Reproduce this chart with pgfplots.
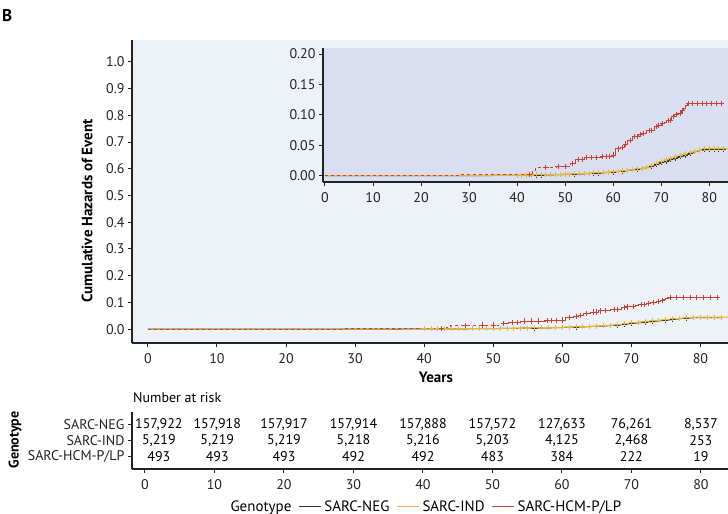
\documentclass[border=0pt]{standalone}
\usepackage{pgfplots}
\pgfplotsset{compat=1.18}
\usepackage{pgfplotstable}
\usepackage{fontspec}
\setmainfont{PT Sans}
\definecolor{negc}{HTML}{333333}
\definecolor{indc}{HTML}{E8B63A}
\definecolor{hcmc}{HTML}{C8412E}
\definecolor{mainbg}{HTML}{EDF2F9}
\definecolor{insetbg}{HTML}{D9DFF0}
\definecolor{axc}{HTML}{222222}

\pgfplotstableread{
x y
0 0
30 0.0002
35 0.0003
40 0.0006
41 0.0007
42 0.0008
43 0.0009
44 0.0010
45 0.0011
46 0.0013
47 0.0014
48 0.0016
49 0.0018
50 0.0020
51 0.0023
52 0.0026
53 0.0029
54 0.0032
55 0.0035
56 0.0039
57 0.0043
58 0.0048
59 0.0054
60 0.0060
61 0.0068
62 0.0076
63 0.0085
64 0.0095
65 0.0105
66 0.0118
67 0.0133
68 0.0152
69 0.0178
70 0.0210
71 0.0235
72 0.0260
73 0.0285
74 0.0310
75 0.0330
76 0.0360
77 0.0390
78 0.0415
79 0.0425
80 0.0430
81 0.0432
82 0.0432
83 0.0432
}\negtab

\pgfplotstableread{
x y
0 0
30 0.0002
35 0.0004
40 0.0007
41 0.0008
42 0.0010
43 0.0011
44 0.0012
45 0.0014
46 0.0016
47 0.0018
48 0.0020
49 0.0022
50 0.0025
51 0.0027
52 0.0030
53 0.0033
54 0.0037
55 0.0041
56 0.0045
57 0.0049
58 0.0054
59 0.0060
60 0.0066
61 0.0074
62 0.0082
63 0.0090
64 0.0098
65 0.0110
66 0.0125
67 0.0142
68 0.0165
69 0.0195
70 0.0230
71 0.0260
72 0.0290
73 0.0310
74 0.0335
75 0.0360
76 0.0380
77 0.0400
78 0.0420
79 0.0440
80 0.0450
81 0.0450
82 0.0450
83 0.0450
84 0.0450
}\indtab

\pgfplotstableread{
x y
0 0
28.2 0.002
43.2 0.0066
43.8 0.013
48.2 0.0152
51.1 0.0196
}\hcmearly

\pgfplotstableread{
x y
51.1 0.0196
52.2 0.026
54.0 0.030
57.5 0.032
59.8 0.034
60.5 0.044
61.6 0.047
62.3 0.052
63.0 0.058
64.1 0.064
65.2 0.068
66.0 0.070
67.0 0.074
68.5 0.081
69.2 0.083
70.0 0.086
70.6 0.088
71.1 0.091
72.2 0.097
72.8 0.100
73.6 0.103
74.2 0.107
74.7 0.111
75.0 0.115
75.4 0.119
82.6 0.119
}\hcmlate

\pgfplotstableread{
x y
42.5 0.002
46.0 0.013
48.5 0.0152
50.0 0.0152
51.5 0.0196
52.8 0.026
53.5 0.026
54.5 0.030
55.5 0.030
56.5 0.030
57.8 0.032
58.5 0.032
59.2 0.032
60.0 0.034
61.0 0.044
62.0 0.047
62.6 0.052
63.5 0.058
64.5 0.064
65.0 0.064
65.6 0.068
66.3 0.070
67.5 0.074
68.0 0.074
69.0 0.081
69.5 0.083
70.3 0.086
71.5 0.091
71.9 0.091
72.5 0.097
73.2 0.100
73.9 0.103
74.5 0.107
75.6 0.119
76.5 0.119
77.5 0.119
78.5 0.119
79.5 0.119
80.5 0.119
81.5 0.119
82.5 0.119
}\hcmmarks

\pgfplotstableread{
x y label
2.0 3 157,922
10.4 3 157,918
20 3 157,917
30 3 157,914
40 3 157,888
50 3 157,572
60 3 127,633
70 3 76,261
80 3 8,537
2.0 2 5,219
10.4 2 5,219
20 2 5,219
30 2 5,218
40 2 5,216
50 2 5,203
60 2 4,125
70 2 2,468
80 2 253
2.0 1 493
10.4 1 493
20 1 493
30 1 492
40 1 492
50 1 483
60 1 384
70 1 222
80 1 19
}\risktab

\newcommand{\plotcurves}{%
\addplot[negc, line width=1bp, mark=+, mark phase=4, mark size=2.5bp] table {\negtab};
\addplot[indc, line width=1bp, mark=+, mark phase=4, mark size=2.5bp] table {\indtab};
\addplot[hcmc, line width=0.9bp, dashed, const plot, mark=none] table {\hcmearly};
\addplot[hcmc, line width=0.9bp, const plot, mark=none] table {\hcmlate};
\addplot[hcmc, only marks, mark=+, mark size=2.6bp, mark options={line width=0.9bp}] table {\hcmmarks};
}

\newcommand{\tfont}{\fontsize{14bp}{16bp}\selectfont}
\newcommand{\rfont}{\fontsize{14bp}{16bp}\selectfont}
\newcommand{\lfont}{\fontsize{15bp}{17bp}\selectfont}

\pgfplotsset{
  kmstyle/.style={
    scale only axis,
    axis x line*=bottom,
    axis y line*=left,
    axis line style={axc, line width=1.2bp},
    tick style={axc, line width=1bp},
    tick align=outside,
    major tick length=4bp,
    /pgf/number format/assume math mode=true,
    tick label style={font=\tfont, text=axc},
    xticklabel style={yshift=-3bp},
    label style={font=\bfseries\lfont},
    clip=false,
  }
}

\begin{document}
\begin{tikzpicture}
\path[use as bounding box] (0bp,0bp) rectangle (728bp,-514bp);
\node[anchor=north west, inner sep=0pt, font=\bfseries\fontsize{17bp}{20bp}\selectfont] at (2bp,-9bp) {B};

% main axis
\begin{axis}[kmstyle,
  at={(132bp,-343bp)}, anchor=south west,
  width=596bp, height=303bp,
  xmin=-2.3, xmax=84, ymin=-0.052, ymax=1.082,
  axis background/.style={fill=mainbg},
  xtick={0,10,...,80},
  ytick={0,0.1,...,1.0},
  yticklabel style={/pgf/number format/.cd, fixed, fixed zerofill, precision=1},
  xlabel={Years},
  ylabel={Cumulative Hazards of Event},
  x label style={at={(axis description cs:0.51,0)}, anchor=north, yshift=-25bp},
  y label style={at={(axis description cs:0,0.436)}, anchor=south, yshift=36bp},
]
\plotcurves
\end{axis}

% inset
\begin{axis}[kmstyle,
  at={(323bp,-182bp)}, anchor=south west,
  width=405bp, height=134bp,
  xmin=-0.41, xmax=83.9, ymin=-0.0104, ymax=0.21,
  axis background/.style={fill=insetbg},
  xtick={0,10,...,80},
  ytick={0,0.05,...,0.2},
  yticklabel style={/pgf/number format/.cd, fixed, fixed zerofill, precision=2},
]
\plotcurves
\end{axis}

% risk table
\begin{axis}[kmstyle,
  at={(132bp,-469bp)}, anchor=south west,
  width=596bp, height=57bp,
  xmin=-1.87, xmax=83.9, ymin=0.25, ymax=3.8,
  xtick={0,10,...,80},
  ytick={1,2,3},
  yticklabels={SARC-HCM-P/LP,SARC-IND,SARC-NEG},
  yticklabel style={font=\rfont},
  legend style={at={(axis description cs:0.493,-0.66)}, anchor=center, draw=none, fill=none,
    legend columns=-1, font=\lfont, inner sep=0pt,
    nodes={inner sep=3bp, font=\lfont},
    /tikz/every even column/.append style={column sep=4bp}},
  legend image code/.code={\draw[#1] (0bp,0bp) -- (22bp,0bp);},
]
\addplot[forget plot, draw=none, mark=none, nodes near coords, point meta=explicit symbolic,
  nodes near coords align=center,
  every node near coord/.append style={font=\rfont, anchor=center}]
  table[meta=label] {\risktab};
\addlegendimage{empty legend}
\addlegendentry{Genotype}
\addlegendimage{negc, line width=1bp}
\addlegendentry{SARC-NEG}
\addlegendimage{indc, line width=1bp}
\addlegendentry{SARC-IND}
\addlegendimage{hcmc, line width=1bp}
\addlegendentry{SARC-HCM-P/LP}
\end{axis}
\node[anchor=west, inner sep=0pt, font=\rfont] at (133bp,-398bp) {Number at risk};
\node[rotate=90, anchor=center, inner sep=0pt, font=\bfseries\rfont] at (15bp,-440bp) {Genotype};
\end{tikzpicture}
\end{document}
